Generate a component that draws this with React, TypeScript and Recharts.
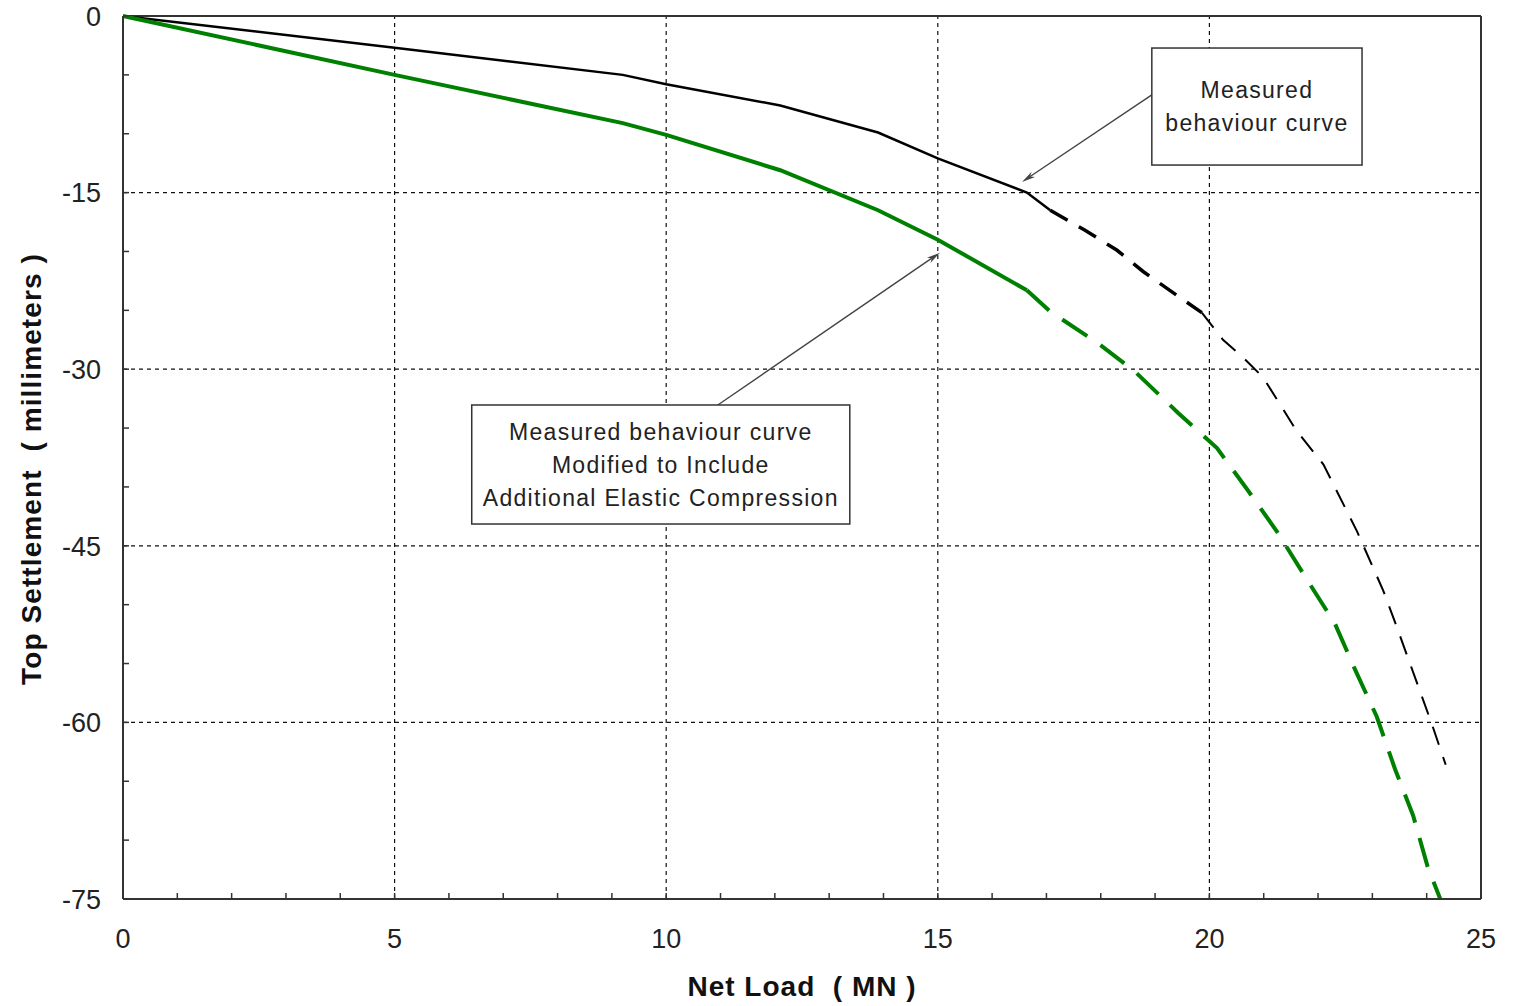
import React from "react";
import { LineChart, Line, XAxis, YAxis, ReferenceLine } from "recharts";

// Measured behaviour curve (black)
const measuredSolidLoad = [0, 5, 9.2, 10, 12.1, 13.9, 15, 16.64, 17.07];
const measuredSolidSettle = [0, -2.7, -5.0, -5.8, -7.6, -9.9, -12.1, -15.0, -16.5];
const measuredThickLoad = [17.07, 17.71, 18.3, 18.78, 19.33, 19.86];
const measuredThickSettle = [-16.5, -18.2, -19.9, -21.7, -23.5, -25.2];
const measuredThinLoad = [19.86, 20.25, 20.62, 20.99, 21.6, 22.1, 22.72, 23.2, 23.45, 24.1, 24.35];
const measuredThinSettle = [-25.2, -27.5, -29.0, -30.7, -35.2, -38.1, -43.8, -48.8, -51.9, -60.2, -63.6];

// Modified curve incl. additional elastic compression (green)
const modifiedSolidLoad = [0, 5, 9.2, 10, 12.1, 13.9, 15, 16.64];
const modifiedSolidSettle = [0, -5.0, -9.1, -10.1, -13.1, -16.5, -19.0, -23.3];
const modifiedDashLoad = [16.64, 17.07, 17.95, 18.63, 19.42, 20.14, 20.71, 21.26, 21.8, 22.31, 22.68, 23.08, 23.42, 23.75, 24.02, 24.25];
const modifiedDashSettle = [-23.3, -25.1, -27.8, -30.2, -33.7, -36.7, -40.3, -43.9, -47.9, -51.6, -55.5, -59.5, -64.0, -67.9, -72.3, -75];

const xTicks = Array.from({ length: 26 }, (_, i) => i);
const yTicks = Array.from({ length: 16 }, (_, i) => -75 + i * 5);
const xGrid = [5, 10, 15, 20];
const yGrid = [-15, -30, -45, -60];

const box1Lines = ["Measured", "behaviour curve"];
const box2Lines = ["Measured behaviour curve", "Modified to Include", "Additional Elastic Compression"];

const FONT = "'Liberation Sans', Arial, sans-serif";
const AXIS = "#333";

const zip = (xs: number[], ys: number[]) => xs.map((x, i) => ({ load: x, settle: ys[i] }));

const XTick = (props: any) => {
  const { x, payload } = props;
  if (payload.value % 5 !== 0) return null;
  return (
    <text x={x} y={948} textAnchor="middle" fontSize={27} fontFamily={FONT} fill="#222">
      {payload.value}
    </text>
  );
};

const YTick = (props: any) => {
  const { y, payload } = props;
  if (payload.value % 15 !== 0) return null;
  return (
    <text x={101} y={y} textAnchor="end" dy="0.36em" fontSize={27} fontFamily={FONT} fill="#222">
      {payload.value}
    </text>
  );
};

const Arrow = (props: any) => {
  const { x1, y1, x2, y2 } = props;
  const a = Math.atan2(y2 - y1, x2 - x1);
  const len = 14;
  const w = 0.22;
  const p1 = [x2 - len * Math.cos(a - w), y2 - len * Math.sin(a - w)];
  const p2 = [x2 - len * Math.cos(a + w), y2 - len * Math.sin(a + w)];
  const pm = [x2 - len * 0.7 * Math.cos(a), y2 - len * 0.7 * Math.sin(a)];
  return (
    <g>
      <line x1={x1} y1={y1} x2={pm[0]} y2={pm[1]} stroke="#444" strokeWidth={1.4} />
      <path d={`M${x2},${y2} L${p1[0]},${p1[1]} L${pm[0]},${pm[1]} L${p2[0]},${p2[1]} Z`} fill="#444" />
    </g>
  );
};

// text box drawn from a segment's two corners
const makeBox = (lines: string[]) => (props: any) => {
  const { x1, y1, x2, y2 } = props;
  const x = Math.min(x1, x2);
  const y = Math.min(y1, y2);
  const w = Math.abs(x2 - x1);
  const h = Math.abs(y2 - y1);
  const lh = 33;
  const cy = y + h / 2 - ((lines.length - 1) * lh) / 2;
  return (
    <g>
      <rect x={x} y={y} width={w} height={h} fill="#fff" stroke="#333" strokeWidth={1.5} />
      {lines.map((t, i) => (
        <text key={i} x={x + w / 2} y={cy + i * lh} dy="0.36em" textAnchor="middle" fontSize={23} letterSpacing={1.3} fontFamily={FONT} fill="#222">
          {t}
        </text>
      ))}
    </g>
  );
};

export default function App() {
  return (
    <div style={{ position: "absolute", left: 0, top: 0, background: "#fff" }}>
      <LineChart width={1516} height={1006} margin={{ top: 16, right: 35, bottom: 0, left: 0 }}>
        <XAxis
          type="number"
          dataKey="load"
          domain={[0, 25]}
          ticks={xTicks}
          interval={0}
          height={107}
          tickSize={-6}
          tickMargin={30}
          tick={<XTick />}
          axisLine={{ stroke: AXIS, strokeWidth: 2 }}
          tickLine={{ stroke: AXIS, strokeWidth: 1.5 }}
          label={{
            content: (p: any) => {
              const vb = p.viewBox;
              return (
                <text x={vb.x + vb.width / 2} y={996} textAnchor="middle" fontSize={28} letterSpacing={1} fontWeight="bold" fontFamily={FONT} fill="#111">
                  {"Net Load\u00a0\u00a0( MN )"}
                </text>
              );
            },
          }}
        />
        <YAxis
          type="number"
          dataKey="settle"
          domain={[-75, 0]}
          ticks={yTicks}
          interval={0}
          width={123}
          tickSize={-6}
          tickMargin={28}
          tick={<YTick />}
          axisLine={{ stroke: AXIS, strokeWidth: 2 }}
          tickLine={{ stroke: AXIS, strokeWidth: 1.5 }}
          label={{
            content: () => {
              const cx = 41;
              const cy = 469;
              return (
                <text x={cx} y={cy} transform={`rotate(-90 ${cx} ${cy})`} textAnchor="middle" fontSize={28} letterSpacing={1.1} fontWeight="bold" fontFamily={FONT} fill="#111">
                  {"Top Settlement\u00a0\u00a0( millimeters )"}
                </text>
              );
            },
          }}
        />
        {xGrid.map((v) => (
          <ReferenceLine key={"gx" + v} x={v} stroke="#111" strokeWidth={1.2} strokeDasharray="4 4" />
        ))}
        {yGrid.map((v) => (
          <ReferenceLine key={"gy" + v} y={v} stroke="#111" strokeWidth={1.2} strokeDasharray="4 4" />
        ))}
        <ReferenceLine y={0} stroke={AXIS} strokeWidth={2} />
        <ReferenceLine x={25} stroke={AXIS} strokeWidth={2} />

        <Line data={zip(measuredSolidLoad, measuredSolidSettle)} dataKey="settle" stroke="#000" strokeWidth={2.5} dot={false} isAnimationActive={false} />
        <Line data={zip(measuredThickLoad, measuredThickSettle)} dataKey="settle" stroke="#000" strokeWidth={3.5} strokeDasharray="20 13" dot={false} isAnimationActive={false} />
        <Line data={zip(measuredThinLoad, measuredThinSettle)} dataKey="settle" stroke="#000" strokeWidth={2} strokeDasharray="19 13" dot={false} isAnimationActive={false} />
        <Line data={zip(modifiedSolidLoad, modifiedSolidSettle)} dataKey="settle" stroke="#008000" strokeWidth={4} dot={false} isAnimationActive={false} />
        <Line data={zip(modifiedDashLoad, modifiedDashSettle)} dataKey="settle" stroke="#008000" strokeWidth={4} strokeDasharray="30 16" dot={false} isAnimationActive={false} />

        <ReferenceLine segment={[{ x: 18.94, y: -6.7 }, { x: 16.55, y: -14.1 }]} shape={<Arrow />} />
        <ReferenceLine segment={[{ x: 10.95, y: -33.04 }, { x: 15.04, y: -20.1 }]} shape={<Arrow />} />
        <ReferenceLine segment={[{ x: 18.94, y: -2.72 }, { x: 22.81, y: -12.66 }]} shape={makeBox(box1Lines)} />
        <ReferenceLine segment={[{ x: 6.42, y: -33.04 }, { x: 13.38, y: -43.15 }]} shape={makeBox(box2Lines)} />
      </LineChart>
    </div>
  );
}
